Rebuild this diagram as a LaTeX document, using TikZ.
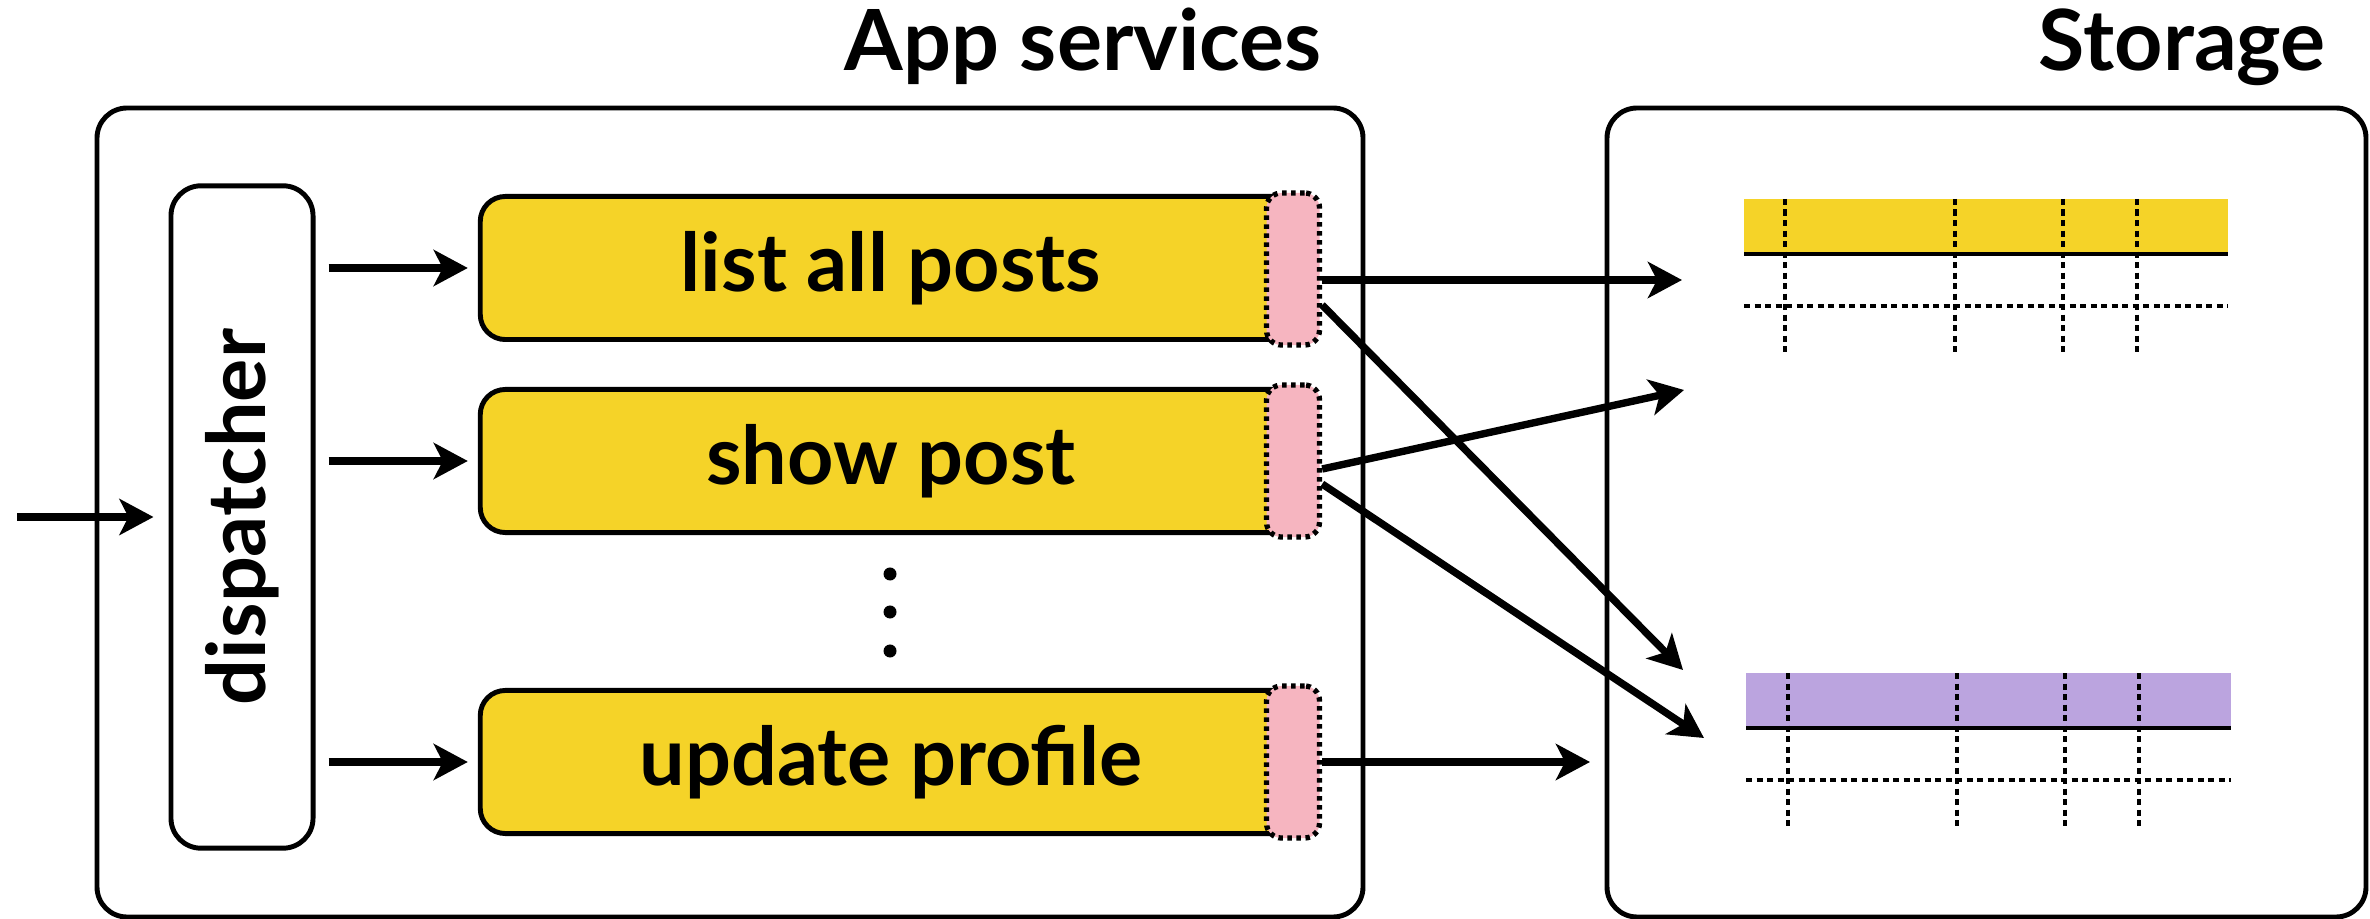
\documentclass[tikz,border=0pt]{standalone}
\usepackage{fontspec}
\setmainfont{Lato}
\usepackage{tikz}
\usetikzlibrary{arrows.meta}
\definecolor{svcyellow}{RGB}{245,211,40}
\definecolor{portpink}{RGB}{246,181,192}
\definecolor{tblpurple}{RGB}{187,164,223}
\tikzstyle{group}=[draw, line width=1.4pt, rounded corners=0.3cm]
\tikzstyle{svc}=[draw, line width=1.4pt, fill=svcyellow, rounded corners=0.25cm, minimum width=8.21cm, minimum height=1.43cm, font=\fontsize{23}{27}\selectfont\bfseries]
\tikzstyle{port}=[draw, line width=1.5pt, dash pattern=on 0.045cm off 0.045cm, fill=portpink, rounded corners=0.15cm, minimum width=0.53cm, minimum height=1.52cm, inner sep=0pt]
\tikzstyle{feed}=[line width=2.1pt, -{Stealth[length=0.34cm, width=0.36cm, inset=0.09cm]}]
\tikzstyle{grid}=[line width=0.9pt, dash pattern=on 0.06cm off 0.045cm]
\newcommand{\svc}{\node[svc]}
\newcommand{\port}{\node[port]}

\begin{document}
\begin{tikzpicture}[x=0.01cm, y=-0.01cm]
    \useasboundingbox (0,0) rectangle (2370,919);
    % the two groups
    \draw[group] (97,108) rectangle (1363,917);
    \draw[group] (1607,108) rectangle (2366,917);
    \node[anchor=base east, font=\fontsize{24}{28}\selectfont\bfseries] (apptitle) at (1334,71) {App services};
    \node[anchor=base east, font=\fontsize{24}{28}\selectfont\bfseries] (storetitle) at (2338,71) {Storage};

    % dispatcher
    \node[draw, line width=1.4pt, rounded corners=0.3cm, minimum width=1.42cm, minimum height=6.62cm] (disp) at (242,517) {};
    \node[rotate=90, font=\fontsize{23}{27}\selectfont\bfseries] (disptext) at (disp) {dispatcher};
    \coordinate (in) at (17,517);

    % services
    \svc (list) at (891,268) {list all posts};
    \svc (show) at (891,461) {show post};
    \svc (update) at (891,762) {update profile};
    \port (p1) at (1293,269) {};
    \port (p2) at (1293,461) {};
    \port (p3) at (1293,762) {};
    \foreach \y in {574,612,651}
        \fill (890,\y) circle (0.065cm);

    % tables
    \fill[svcyellow] (1744,199) rectangle (2228,254);
    \draw[line width=1.2pt] (1744,254) -- (2228,254);
    \draw[grid] (1744,306) -- (2228,306);
    \foreach \x in {1785,1955,2063,2137}
        \draw[grid] (\x,199) -- (\x,353);
    \fill[tblpurple] (1746,673) rectangle (2231,728);
    \draw[line width=1.2pt] (1746,728) -- (2231,728);
    \draw[grid] (1746,780) -- (2231,780);
    \foreach \x in {1788,1957,2065,2139}
        \draw[grid] (\x,673) -- (\x,827);

    \coordinate (a1) at (1682,280);
    \coordinate (a2) at (1684,390);
    \coordinate (b1) at (1683,670);
    \coordinate (b2) at (1704,738);
    \coordinate (c1) at (1590,762);

    % connectors
    \draw[feed] (in) -- ([xshift=-0.15cm]disp.west);
    \draw[feed] ([xshift=0.13cm]disp.east |- list) -- ([xshift=-0.1cm]list.west);
    \draw[feed] ([xshift=0.13cm]disp.east |- show) -- ([xshift=-0.1cm]show.west);
    \draw[feed] ([xshift=0.13cm]disp.east |- update) -- ([xshift=-0.1cm]update.west);
    \draw[feed] (p1.east |- a1) -- (a1);
    \draw[feed] ([yshift=-0.36cm]p1.east) -- (b1);
    \draw[feed] ([yshift=-0.08cm]p2.east) -- (a2);
    \draw[feed] ([yshift=-0.23cm]p2.east) -- (b2);
    \draw[feed] (p3.east) -- (c1);
\end{tikzpicture}
\end{document}
